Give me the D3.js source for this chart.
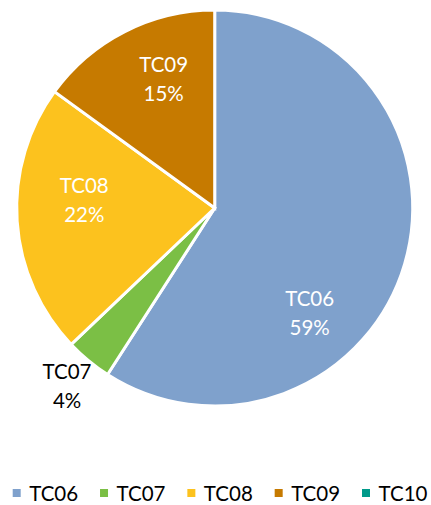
<!DOCTYPE html>
<html>
<head>
<meta charset="utf-8">
<script src="https://cdn.jsdelivr.net/npm/d3@7"></script>
<style>
  body { margin: 0; background: #fff; }
  svg { display: block; font-family: Lato, "Liberation Sans", sans-serif; }
</style>
</head>
<body>
<div id="chart"></div>
<script>
const categories = ['TC06', 'TC07', 'TC08', 'TC09', 'TC10'];
const values = [59.1, 3.8, 22.1, 15.0, 0];
const percentLabels = ['59%', '4%', '22%', '15%', '0%'];
const colors = ['#7FA1CC', '#7BBF45', '#FCC21E', '#C67A00', '#009A8A'];

const width = 431, height = 505;
const cx = 214.7, cy = 208, radius = 198;

// label placement inside each slice: [fraction of slice angle, fraction of radius]
const labelPlacement = {
  TC06: [0.648, 0.715],
  TC07: [0.5, 1.17],
  TC08: [0.594, 0.66],
  TC09: [0.6, 0.70]
};

const svg = d3.select('#chart').append('svg')
  .attr('width', width).attr('height', height);

const pie = d3.pie().sort(null).value(d => d.value);
const data = categories.map((c, i) => ({ name: c, value: values[i], pct: percentLabels[i], color: colors[i] }));
const arcs = pie(data);

const arc = d3.arc().innerRadius(0).outerRadius(radius);

const g = svg.append('g').attr('transform', `translate(${cx},${cy})`);

g.selectAll('path')
  .data(arcs.filter(d => d.value > 0))
  .enter().append('path')
  .attr('d', arc)
  .attr('fill', d => d.data.color)
  .attr('stroke', '#fff')
  .attr('stroke-width', 3)
  .attr('stroke-linejoin', 'miter');

function labelPos(d) {
  const p = labelPlacement[d.data.name] || [0.5, 0.7];
  const a = d.startAngle + (d.endAngle - d.startAngle) * p[0];
  const r = radius * p[1];
  return [Math.sin(a) * r, -Math.cos(a) * r];
}

// slice labels: small slices go outside in black
const labels = g.selectAll('text.lbl')
  .data(arcs.filter(d => d.value > 0))
  .enter().append('text')
  .attr('class', 'lbl')
  .attr('text-anchor', 'middle')
  .attr('font-size', 20.5)
  .attr('fill', d => d.value < 5 ? '#000' : '#fff')
  .attr('transform', d => {
    const p = labelPos(d);
    return `translate(${p[0]},${p[1]})`;
  });
labels.append('tspan').attr('x', 0).attr('y', -7).text(d => d.data.name);
labels.append('tspan').attr('x', 0).attr('y', 22).text(d => d.data.pct);

// legend
const legendX = d3.scalePoint().domain(categories).range([12.7, 362]);
const legend = svg.append('g').attr('transform', 'translate(0,501)');
const item = legend.selectAll('g').data(data).enter().append('g')
  .attr('transform', d => `translate(${legendX(d.name)},0)`);
item.append('rect')
  .attr('x', 0).attr('y', -12).attr('width', 8).attr('height', 8)
  .attr('fill', d => d.color);
item.append('text')
  .attr('x', 16.5).attr('y', 0)
  .attr('font-size', 20.5)
  .attr('fill', '#000')
  .text(d => d.name);
</script>
</body>
</html>
